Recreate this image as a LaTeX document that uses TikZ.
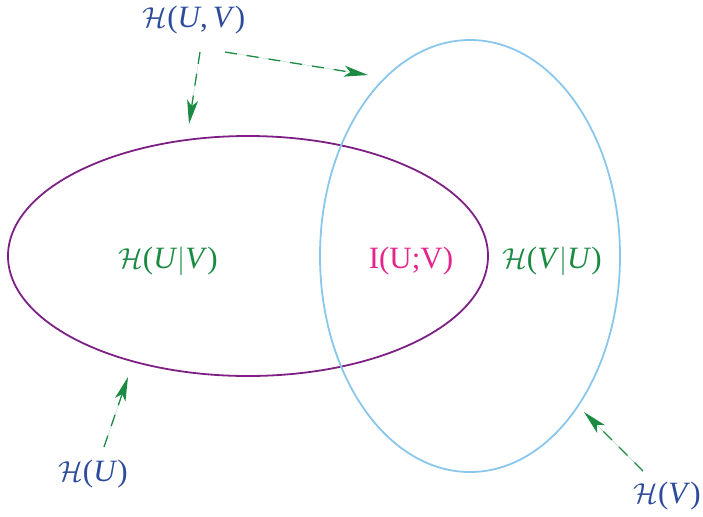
\documentclass[tikz,border=0pt]{standalone}
\usepackage{amsmath,amssymb}
\usepackage{fontspec}
\setmainfont{Liberation Serif}
\usepackage{xcolor}
\usepackage{tikz}
\usetikzlibrary{arrows.meta,positioning,shapes.geometric}
\definecolor{setpurple}{HTML}{7E1F86}
\definecolor{setblue}{HTML}{8AC7EC}
\definecolor{condgreen}{HTML}{1B8A43}
\definecolor{labelblue}{HTML}{2C4B9B}
\definecolor{mipink}{HTML}{E4258C}
\newcommand{\ent}[1]{$\mathcal{H}$(#1)}

\begin{document}
\begin{tikzpicture}[
 x=0.5pt,y=-0.5pt,
 setu/.style={draw=setpurple,line width=0.9pt,ellipse,minimum width=240pt,minimum height=120pt,inner sep=0pt},
 setv/.style={draw=setblue,line width=0.9pt,ellipse,minimum width=150pt,minimum height=216pt,inner sep=0pt},
 lbl/.style={text=labelblue,font=\fontsize{15.5}{18}\selectfont,inner sep=1pt},
 cond/.style={text=condgreen,font=\fontsize{15.5}{18}\selectfont,inner sep=1pt},
 arrow/.style={-{Stealth[length=12pt,width=5.5pt,inset=3pt]},line width=0.65pt,draw=condgreen,fill=condgreen,dash pattern=on 6pt off 5pt}
]
\useasboundingbox (0,0) rectangle (703,516);
\node[setu] (setU) at (248,256) {};
\node[setv] (setV) at (470,256) {};
\node[cond] (hUgV) at (168,261) {\ent{\textit{U}$|$\textit{V}}};
\node[text=mipink,font=\fontsize{15.5}{18}\selectfont] (iUV) at (411,261) {I(U;V)};
\node[cond] (hVgU) at (552,261) {\ent{\textit{V}$|$\textit{U}}};
\node[lbl] (hUV) at (194,20) {\ent{\textit{U},\,\textit{V}}};
\node[lbl] (hU) at (93,474) {\ent{\textit{U}}};
\node[lbl] (hV) at (667,496) {\ent{\textit{V}}};
\coordinate (fromA) at (200,52);
\coordinate (fromB) at (225,52);
\coordinate (fromC) at (104,447);
\coordinate (fromD) at (643,471);
\coordinate (tipA) at (189,124);
\coordinate (tipB) at (368,75);
\coordinate (tipC) at (128,377);
\coordinate (tipD) at (584,412);
\draw[arrow] (fromA) -- (tipA);
\draw[arrow] (fromB) -- (tipB);
\draw[arrow] (fromC) -- (tipC);
\draw[arrow] (fromD) -- (tipD);
\end{tikzpicture}
\end{document}
